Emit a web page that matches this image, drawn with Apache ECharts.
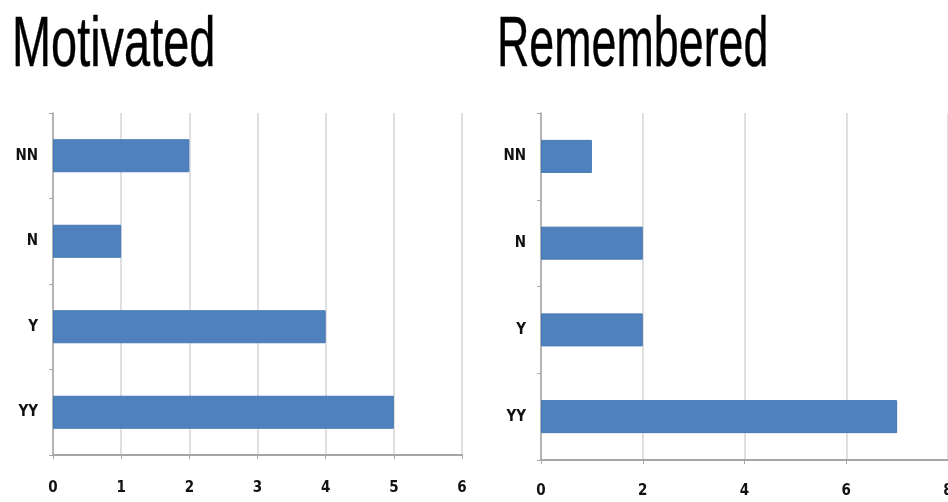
<!DOCTYPE html>
<html>
<head>
<meta charset="utf-8">
<script src="https://cdn.jsdelivr.net/npm/echarts@6/dist/echarts.min.js"></script>
<style>
html,body{margin:0;padding:0;background:#fff;}
#chart{width:948px;height:502px;}
</style>
</head>
<body>
<div id="chart"></div>
<script>
const categories = ['NN', 'N', 'Y', 'YY'];
const motivatedValues = [2, 1, 4, 5];
const rememberedValues = [1, 2, 2, 7];
const titles = ['Motivated', 'Remembered'];
const motivatedAxisMax = 6, motivatedAxisStep = 1;
const rememberedAxisMax = 8, rememberedAxisStep = 2;

const FONT = '"DejaVu Sans Condensed", "Liberation Sans", Arial, sans-serif';
const TITLE_FONT = '"Liberation Sans", Arial, sans-serif';
const barColor = '#4F81BD';
const gridColor = '#D4D4D4';
const axisColor = '#A6A6A6';

function xAxisCfg(gridIndex, max, step, margin) {
  return {
    type: 'value', gridIndex: gridIndex, min: 0, max: max, interval: step,
    axisLine: {show: true, lineStyle: {color: axisColor, width: 2}},
    axisTick: {show: true, length: 4, lineStyle: {color: axisColor}},
    splitLine: {show: true, lineStyle: {color: gridColor, width: 1.5}},
    axisLabel: {color: '#111', fontFamily: FONT, fontWeight: 'bold', fontSize: 15, margin: margin}
  };
}
function yAxisCfg(gridIndex) {
  return {
    type: 'category', gridIndex: gridIndex, data: categories, inverse: true,
    axisLine: {show: true, lineStyle: {color: axisColor, width: 1.5}},
    axisTick: {show: true, length: 4, alignWithLabel: false, lineStyle: {color: axisColor}},
    axisLabel: {color: '#111', fontFamily: FONT, fontWeight: 'bold', fontSize: 15, margin: 15}
  };
}
function titleText(text, x, sx) {
  return {
    type: 'text', x: x, y: 12, scaleX: sx, scaleY: 1,
    style: {text: text, fill: '#000', stroke: '#000', lineWidth: 0.4,
            font: 'normal 70px ' + TITLE_FONT,
            textAlign: 'left', textVerticalAlign: 'top'}
  };
}

const chart = echarts.init(document.getElementById('chart'), null, {renderer: 'canvas'});
chart.setOption({
  backgroundColor: '#ffffff',
  animation: false,
  graphic: [
    titleText(titles[0], 12, 0.67),
    titleText(titles[1], 497, 0.64)
  ],
  grid: [
    {left: 53, right: 486, top: 113, bottom: 47, containLabel: false, outerBoundsMode: 'none'},
    {left: 541, right: 0, top: 113, bottom: 42, containLabel: false, outerBoundsMode: 'none'}
  ],
  xAxis: [
    xAxisCfg(0, motivatedAxisMax, motivatedAxisStep, 26),
    xAxisCfg(1, rememberedAxisMax, rememberedAxisStep, 24)
  ],
  yAxis: [yAxisCfg(0), yAxisCfg(1)],
  series: [
    {type: 'bar', xAxisIndex: 0, yAxisIndex: 0, data: motivatedValues, barWidth: 33,
     itemStyle: {color: barColor, borderColor: '#4477B5', borderWidth: 1}},
    {type: 'bar', xAxisIndex: 1, yAxisIndex: 1, data: rememberedValues, barWidth: 33,
     itemStyle: {color: barColor, borderColor: '#4477B5', borderWidth: 1}}
  ]
});
</script>
</body>
</html>
